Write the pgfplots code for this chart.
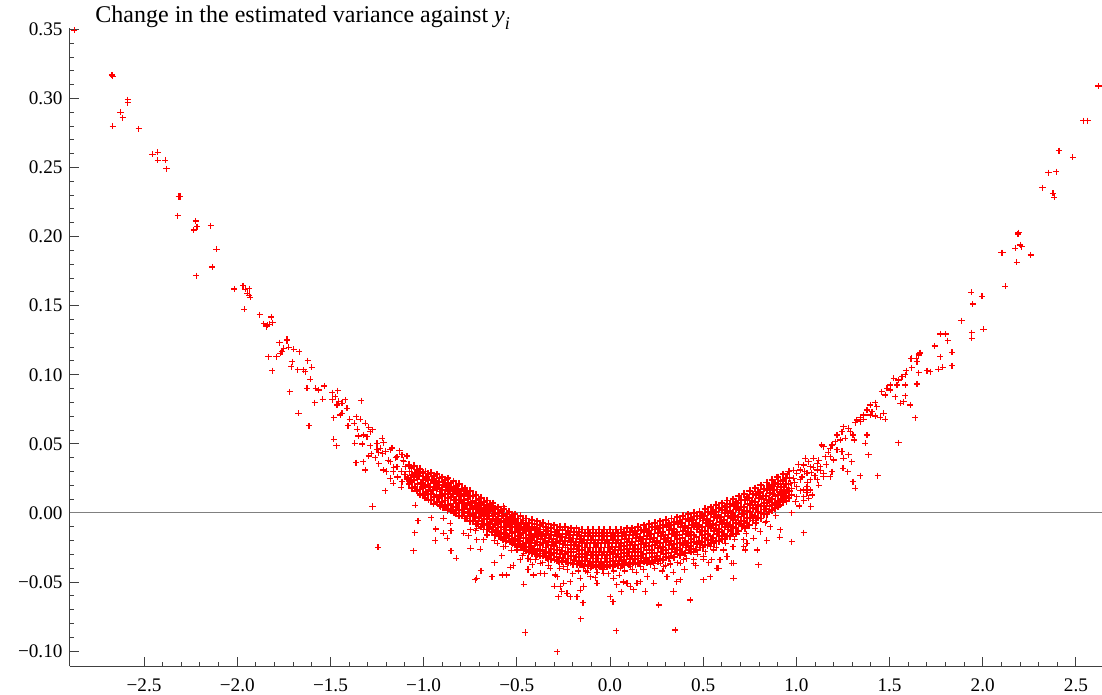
\documentclass[border=0pt]{standalone}
\usepackage{fontspec}
\setmainfont{Liberation Serif}
\usepackage{pgfplots}
\pgfplotsset{compat=1.18}

\begin{document}
\begin{tikzpicture}
\begin{axis}[
  scale only axis,
  width=516pt, height=319pt,
  xmin=-2.9, xmax=2.64,
  ymin=-0.111, ymax=0.351,
  axis lines=left,
  axis line style={-, black!75, line width=0.5pt},
  tick align=inside,
  tick style={black!75, line width=0.5pt},
  major tick length=4.5pt,
  minor tick length=2.2pt,
  minor tick num=4,
  xtick={-2.5,-2,-1.5,-1,-0.5,0,0.5,1,1.5,2,2.5},
  xticklabels={\textrm{−2.5},\textrm{−2.0},\textrm{−1.5},\textrm{−1.0},\textrm{−0.5},\textrm{0.0},\textrm{0.5},\textrm{1.0},\textrm{1.5},\textrm{2.0},\textrm{2.5}},
  ytick={-0.1,-0.05,0,0.05,0.1,0.15,0.2,0.25,0.3,0.35},
  yticklabels={\textrm{−0.10},\textrm{−0.05},\textrm{0.00},\textrm{0.05},\textrm{0.10},\textrm{0.15},\textrm{0.20},\textrm{0.25},\textrm{0.30},\textrm{0.35}},
  tick label style={font=\fontsize{9.6}{11}\selectfont, text=black},
  xticklabel style={yshift=-2.5pt},
  clip=false,
]
\addplot[gray, line width=0.5pt, forget plot] coordinates {(-2.9,0) (2.64,0)};

% outer branches and scattered points
\addplot[only marks, mark=+, mark size=1.55pt, red, mark options={line width=0.55pt}] coordinates {
(-2.874,0.3495)
(-2.672,0.317)(-2.668,0.316)(-2.588,0.299)(-2.588,0.297)
(-2.627,0.290)(-2.615,0.286)(-2.668,0.280)(-2.529,0.278)
(-2.455,0.2596)(-2.427,0.261)(-2.427,0.2554)(-2.386,0.2554)(-2.380,0.249)
(-2.314,0.229)(-2.307,0.229)(-2.320,0.215)
(-2.223,0.2113)(-2.216,0.2072)(-2.234,0.2048)(-2.143,0.2079)
(-2.111,0.191)(-2.135,0.178)(-2.221,0.1717)
(-2.016,0.1621)(-1.969,0.1645)(-1.957,0.1619)(-1.935,0.1623)(-1.947,0.159)(-1.935,0.1577)(-1.930,0.1561)
(-1.962,0.1474)(-1.880,0.1435)(-1.817,0.1418)
(-1.858,0.1368)(-1.840,0.1360)(-1.826,0.1365)(-1.810,0.1377)(-1.844,0.1348)
(-1.733,0.1257)
(-1.773,0.1232)(-1.733,0.1247)
(-1.751,0.1192)(-1.760,0.1167)(-1.724,0.1199)(-1.697,0.1184)(-1.667,0.1167)
(-1.832,0.1131)(-1.790,0.1131)(-1.769,0.1156)(-1.812,0.103)
(-1.706,0.1095)(-1.711,0.1059)
(-1.622,0.1102)(-1.601,0.1054)(-1.644,0.1035)(-1.676,0.1035)(-1.635,0.1022)
(-1.608,0.0967)(-1.719,0.0876)
(-1.626,0.0902)(-1.579,0.0902)(-1.533,0.0919)(-1.563,0.089)
(-1.671,0.0721)(-1.585,0.0798)(-1.542,0.0823)
(-1.491,0.087)(-1.461,0.0885)(-1.474,0.0842)(-1.491,0.0818)(-1.456,0.0806)(-1.420,0.0818)(-1.465,0.0781)(-1.438,0.0794)
(-1.334,0.0813)(-1.615,0.063)
(-1.483,0.069)(-1.447,0.0709)(-1.411,0.0758)(-1.397,0.0678)(-1.406,0.063)(-1.438,0.0721)
(-1.361,0.0697)(-1.340,0.0678)(-1.372,0.0649)(-1.357,0.0606)(-1.313,0.0649)(-1.295,0.062)(-1.274,0.0601)(-1.286,0.0588)(-1.322,0.0564)(-1.349,0.0557)(-1.304,0.0552)
(-1.483,0.0533)(-1.468,0.0485)
(-1.370,0.0504)(-1.330,0.0499)(-1.286,0.0485)(-1.250,0.0504)(-1.223,0.054)(-1.215,0.0509)(-1.232,0.0468)(-1.205,0.0444)(-1.241,0.0436)(-1.179,0.0456)
(-1.363,0.0364)(-1.325,0.0371)(-1.295,0.0412)(-1.282,0.0427)
(-1.313,0.0311)(-1.241,0.0355)(-1.215,0.0311)(-1.179,0.0371)(-1.164,0.0299)(-1.143,0.0335)(-1.143,0.0407)(-1.116,0.042)(-1.107,0.0371)(-1.089,0.0412)(-1.098,0.0335)
(-1.207,0.0161)(-1.164,0.0215)(-1.116,0.0226)(-1.121,0.0186)(-1.089,0.0244)
(-1.12,0.030)(-1.14,0.026)(-1.16,0.033)(-1.19,0.038)(-1.22,0.043)(-1.13,0.045)(-1.17,0.047)(-1.20,0.030)(-1.26,0.040)(-1.10,0.028)(-1.11,0.038)(-1.15,0.040)(-1.25,0.046)(-1.18,0.025)
(-1.054,0.0335)(-1.035,0.0311)(-1.018,0.0299)(-1.000,0.0287)(-0.982,0.0263)(-1.054,0.0263)(-1.071,0.0226)(-1.035,0.0239)(-1.009,0.0215)(-0.991,0.0239)(-0.964,0.0215)(-1.000,0.019)(-1.045,0.0179)(-1.018,0.0143)(-0.982,0.0154)(-0.946,0.019)(-0.920,0.0226)(-0.901,0.0203)(-0.874,0.0239)(-0.884,0.0166)(-0.857,0.019)(-0.839,0.0143)(-0.821,0.0179)(-0.785,0.0154)(-0.767,0.0118)(-0.803,0.0094)(-0.830,0.007)(-0.964,0.0094)(-0.910,0.0046)(-0.866,0.0034)
(-1.274,0.0046)(-1.245,-0.0248)(-1.045,0.0056)(-1.030,-0.0056)(-1.048,-0.0143)(-1.054,-0.0273)(-0.960,-0.0034)(-0.934,-0.0116)(-0.937,-0.02)(-0.893,-0.0038)(-0.857,-0.0075)(-0.893,-0.0147)(-0.874,-0.0183)(-0.853,-0.013)(-0.853,-0.0275)(-0.826,-0.0328)
(-0.785,-0.0147)(-0.759,-0.0166)(-0.749,-0.0123)(-0.714,-0.0111)(-0.678,-0.0123)(-0.642,-0.0099)(-0.714,-0.0195)(-0.678,-0.0195)(-0.749,-0.0255)(-0.696,-0.0263)(-0.606,-0.0147)(-0.571,-0.0123)(-0.535,-0.0099)(-0.606,-0.0219)(-0.571,-0.0244)(-0.517,-0.0195)(-0.499,-0.0268)(-0.463,-0.0292)(-0.428,-0.0195)(-0.392,-0.0147)(-0.356,-0.0099)(-0.410,-0.0268)(-0.374,-0.0292)
(-0.678,0.0058)(-0.642,0.0046)(-0.606,0.0022)(-0.571,0.0046)(-0.749,-0.0002)(-0.785,0.0022)(-0.821,0.0046)(-0.749,0.007)(-0.714,0.0034)
(-0.723,-0.0485)(-0.714,-0.0473)(-0.633,-0.0461)(-0.692,-0.0418)(-0.579,-0.0449)(-0.553,-0.0449)(-0.535,-0.0393)(-0.463,-0.0516)(-0.454,-0.0866)
(-0.410,-0.0449)(-0.374,-0.0436)(-0.418,-0.0376)(-0.374,-0.0364)(-0.320,-0.04)(-0.284,-0.0461)(-0.293,-0.0449)
(-0.267,-0.0533)(-0.249,-0.0509)(-0.276,-0.0606)(-0.231,-0.0581)(-0.213,-0.0606)(-0.258,-0.0569)
(-0.213,-0.0497)(-0.159,-0.0473)(-0.142,-0.0533)(-0.177,-0.0606)(-0.145,-0.0649)(-0.156,-0.0767)
(-0.070,-0.0509)(0.019,-0.0473)(0.037,-0.0521)(0.002,-0.0606)(0.016,-0.0642)(0.091,-0.0509)(0.109,-0.0533)(0.127,-0.0557)(0.145,-0.0509)(0.163,-0.0497)(0.189,-0.0569)(0.234,-0.0509)(0.261,-0.0666)(0.306,-0.0461)(0.341,-0.0569)(0.359,-0.0497)(0.377,-0.0485)(0.431,-0.0630)(0.502,-0.0485)(0.538,-0.0461)(0.574,-0.04)(0.628,-0.0316)(0.663,-0.0473)(0.663,-0.0364)
(0.034,-0.0852)(0.350,-0.0847)(-0.283,-0.1006)(-0.105,-0.0461)(-0.034,-0.0436)
(-0.481,-0.034)(-0.428,-0.034)(-0.392,-0.0316)(-0.320,-0.034)(-0.249,-0.0389)(-0.195,-0.0376)(-0.142,-0.0389)(-0.106,-0.04)(-0.052,-0.0389)(0.002,-0.0376)(0.055,-0.04)(0.109,-0.0389)(0.163,-0.0389)(0.216,-0.0376)(0.270,-0.0364)(0.323,-0.0376)(0.395,-0.034)(0.449,-0.034)(0.502,-0.0316)(0.556,-0.0268)(0.609,-0.0268)(0.717,-0.0244)(0.717,-0.0195)(0.681,-0.0147)
(-0.62,-0.036)(-0.58,-0.031)(-0.52,-0.038)(-0.44,-0.041)(-0.35,-0.044)(-0.30,-0.053)(-0.20,-0.044)(-0.12,-0.043)(-0.08,-0.047)(-0.01,-0.044)(0.05,-0.045)(0.07,-0.05)(0.14,-0.043)(0.20,-0.046)(0.28,-0.042)(0.40,-0.041)(0.46,-0.038)(0.53,-0.036)(0.59,-0.034)(0.34,-0.043)(-0.16,-0.056)(0.06,-0.057)
(-0.72,-0.013)(-0.66,-0.016)(-0.62,-0.020)(-0.56,-0.024)(-0.53,-0.027)(-0.47,-0.031)(-0.44,-0.033)(-0.40,-0.034)(-0.36,-0.036)(-0.33,-0.038)(-0.27,-0.040)(-0.23,-0.041)(-0.17,-0.042)(-0.13,-0.042)(-0.07,-0.043)(-0.04,-0.041)(0.02,-0.042)(0.08,-0.042)(0.12,-0.041)(0.18,-0.041)(0.24,-0.040)(0.30,-0.038)(0.36,-0.036)(0.41,-0.033)(0.47,-0.030)(0.51,-0.028)(0.57,-0.025)(0.62,-0.022)(0.67,-0.019)(0.73,-0.015)(0.78,-0.011)(0.84,-0.006)(0.89,-0.002)
(0.976,0.0002)(0.914,-0.0123)(1.039,-0.0143)(0.976,-0.0208)(0.910,-0.0176)(0.842,-0.02)(0.833,-0.007)(0.860,-0.0099)(0.806,-0.0135)(0.770,-0.0183)(0.789,-0.0268)(0.726,-0.0268)(0.735,-0.0219)(0.797,-0.0376)(0.660,-0.0244)(0.654,-0.0364)(0.628,-0.0316)(0.583,-0.04)(0.547,-0.034)(0.502,-0.0335)(0.538,-0.0244)(0.449,-0.028)(0.449,-0.0364)(0.377,-0.0364)(0.324,-0.0364)(0.288,-0.0389)(0.234,-0.0364)
(0.985,0.031)(0.99,0.022)(1.01,0.035)(1.02,0.016)(1.03,0.026)(1.045,0.030)(1.06,0.022)(1.08,0.029)(1.09,0.033)(1.10,0.027)(1.12,0.038)(1.13,0.031)(0.975,0.018)(0.995,0.008)(1.015,0.005)(1.04,0.009)(1.085,0.013)(1.12,0.020)(1.16,0.035)(1.17,0.044)
(1.048,0.0396)(1.065,0.0371)(1.092,0.0396)(1.111,0.036)(1.075,0.0335)(1.039,0.0347)(1.128,0.0335)(1.021,0.0311)(1.003,0.0287)(1.057,0.0287)(1.111,0.0311)(1.146,0.0287)(1.191,0.0299)(1.146,0.0263)(1.182,0.0263)(1.111,0.0239)(1.075,0.0239)(1.057,0.019)(1.021,0.0239)(0.985,0.0251)(0.967,0.0215)(1.003,0.019)(1.039,0.0166)(1.075,0.0166)(1.066,0.0106)(1.039,0.0118)(1.078,0.0046)(1.003,0.0118)(0.976,0.013)(0.950,0.0166)(0.931,0.0118)(0.914,0.019)(0.896,0.0263)(0.931,0.0239)(0.950,0.0275)(0.923,0.0143)(0.896,0.007)(0.860,0.0094)(0.842,0.0166)(0.860,0.019)(0.878,0.0215)(0.824,0.0118)(0.806,0.0143)(1.057,0.0147)
(1.253,0.0624)(1.280,0.0613)(1.289,0.0588)(1.245,0.0588)(1.218,0.0564)(1.236,0.0528)(1.209,0.0516)(1.262,0.054)(1.191,0.0492)(1.182,0.0468)(1.146,0.048)(1.137,0.0492)(1.218,0.0456)(1.245,0.0444)(1.280,0.042)(1.253,0.0396)(1.298,0.0371)(1.250,0.0323)(1.275,0.0299)(1.304,0.0226)(1.316,0.0179)(1.343,0.027)(1.436,0.027)(1.182,0.0407)(1.200,0.0383)(1.155,0.0407)
(1.379,0.0564)(1.370,0.0504)(1.387,0.042)(1.304,0.0564)(1.311,0.0528)
(1.397,0.0781)(1.423,0.0798)(1.432,0.0769)(1.406,0.0733)(1.379,0.0745)(1.361,0.0709)(1.343,0.0692)(1.325,0.0673)(1.316,0.0653)(1.343,0.0661)(1.361,0.0678)(1.397,0.0709)(1.450,0.0692)(1.477,0.0678)(1.423,0.0702)(1.468,0.0721)
(1.522,0.0975)(1.548,0.0962)(1.567,0.0986)(1.540,0.0926)(1.584,0.0926)(1.504,0.0926)(1.486,0.0902)(1.459,0.0878)(1.477,0.0854)(1.504,0.089)(1.531,0.0842)(1.584,0.0847)(1.557,0.0794)(1.575,0.0805)(1.611,0.0781)
(1.647,0.0933)(1.638,0.069)(1.548,0.0509)
(1.665,0.116)(1.656,0.1143)(1.643,0.1119)(1.620,0.1119)(1.647,0.1095)(1.620,0.1051)(1.590,0.103)(1.584,0.0999)
(1.656,0.1015)(1.701,0.103)(1.718,0.1022)(1.763,0.104)(1.786,0.1054)
(1.773,0.1295)(1.800,0.1295)(1.813,0.1247)(1.742,0.1208)(1.772,0.1131)
(1.835,0.1163)(1.835,0.1066)(1.661,0.1156)(1.615,0.1117)
(2.621,0.309)(2.541,0.2839)(2.562,0.2839)(2.409,0.2622)(2.484,0.2574)(2.353,0.2462)(2.394,0.247)(2.321,0.2354)(2.377,0.2313)(2.384,0.2284)
(2.192,0.2028)(2.189,0.2019)(2.201,0.1939)(2.210,0.1927)(2.174,0.1915)(2.099,0.1884)(2.108,0.1884)(2.257,0.1867)(2.183,0.1814)(2.121,0.164)
(1.938,0.1597)(1.996,0.1568)(1.947,0.1512)(1.886,0.1391)(2.004,0.1329)(1.942,0.1305)(1.942,0.1264)
};

% dense core of the cloud
\addplot[only marks, mark=+, mark size=1.75pt, red, mark options={line width=0.95pt}] coordinates {
(-1.080,0.035)(-1.076,0.030)(-1.084,0.025)(-1.078,0.021)
(-1.050,0.034)(-1.046,0.029)(-1.053,0.024)(-1.049,0.019)
(-1.020,0.032)(-1.024,0.027)(-1.017,0.022)(-1.021,0.017)(-1.019,0.013)
(-0.990,0.030)(-0.986,0.025)(-0.993,0.020)(-0.988,0.015)(-0.991,0.011)
(-0.960,0.029)(-0.957,0.024)(-0.963,0.019)(-0.959,0.014)(-0.962,0.009)
(-0.930,0.028)(-0.934,0.023)(-0.927,0.018)(-0.931,0.013)(-0.929,0.008)
(-0.900,0.026)(-0.897,0.022)(-0.903,0.017)(-0.899,0.012)(-0.902,0.008)(-0.898,0.004)
(-0.870,0.025)(-0.873,0.020)(-0.868,0.016)(-0.871,0.011)(-0.869,0.006)(-0.872,0.002)
(-0.840,0.023)(-0.837,0.018)(-0.843,0.014)(-0.839,0.009)(-0.842,0.004)(-0.838,0.000)
(-0.810,0.021)(-0.813,0.016)(-0.808,0.012)(-0.811,0.007)(-0.809,0.002)(-0.812,-0.002)
(-0.780,0.018)(-0.777,0.014)(-0.783,0.009)(-0.779,0.005)(-0.782,0.000)(-0.778,-0.004)
(-0.750,0.016)(-0.753,0.012)(-0.748,0.007)(-0.751,0.003)(-0.749,-0.002)(-0.752,-0.006)
(-0.720,0.013)(-0.717,0.009)(-0.723,0.005)(-0.719,0.000)(-0.722,-0.004)(-0.718,-0.008)
(-0.690,0.011)(-0.693,0.007)(-0.688,0.002)(-0.691,-0.002)(-0.689,-0.006)(-0.692,-0.010)
(-0.660,0.009)(-0.657,0.005)(-0.663,0.000)(-0.659,-0.004)(-0.662,-0.008)(-0.658,-0.012)
(-0.630,0.007)(-0.633,0.003)(-0.628,-0.002)(-0.631,-0.006)(-0.629,-0.010)(-0.632,-0.014)
(-0.600,0.004)(-0.597,0.000)(-0.603,-0.004)(-0.599,-0.008)(-0.602,-0.013)(-0.598,-0.017)
(-0.570,0.003)(-0.573,-0.002)(-0.568,-0.006)(-0.571,-0.010)(-0.569,-0.015)(-0.572,-0.019)
(-0.540,0.001)(-0.537,-0.003)(-0.543,-0.008)(-0.539,-0.012)(-0.542,-0.017)(-0.538,-0.021)
(-0.510,-0.001)(-0.513,-0.005)(-0.508,-0.010)(-0.511,-0.014)(-0.509,-0.019)(-0.512,-0.023)
(-0.480,-0.002)(-0.477,-0.007)(-0.483,-0.011)(-0.479,-0.016)(-0.482,-0.020)(-0.478,-0.025)
(-0.450,-0.004)(-0.453,-0.008)(-0.448,-0.013)(-0.451,-0.018)(-0.449,-0.022)(-0.452,-0.027)
(-0.420,-0.005)(-0.417,-0.010)(-0.423,-0.015)(-0.419,-0.019)(-0.422,-0.024)(-0.418,-0.029)
(-0.390,-0.006)(-0.393,-0.011)(-0.388,-0.016)(-0.391,-0.021)(-0.389,-0.026)(-0.392,-0.030)
(-0.360,-0.007)(-0.357,-0.012)(-0.363,-0.017)(-0.359,-0.022)(-0.362,-0.027)(-0.358,-0.031)
(-0.330,-0.008)(-0.333,-0.013)(-0.328,-0.018)(-0.331,-0.023)(-0.329,-0.028)(-0.332,-0.033)
(-0.300,-0.009)(-0.297,-0.014)(-0.303,-0.019)(-0.299,-0.024)(-0.302,-0.029)(-0.298,-0.034)
(-0.270,-0.010)(-0.273,-0.015)(-0.268,-0.020)(-0.271,-0.025)(-0.269,-0.030)(-0.272,-0.035)
(-0.240,-0.010)(-0.237,-0.015)(-0.243,-0.020)(-0.239,-0.025)(-0.242,-0.030)(-0.238,-0.035)
(-0.210,-0.011)(-0.213,-0.016)(-0.208,-0.021)(-0.211,-0.026)(-0.209,-0.031)(-0.212,-0.036)
(-0.180,-0.011)(-0.177,-0.016)(-0.183,-0.021)(-0.179,-0.026)(-0.182,-0.032)(-0.178,-0.037)
(-0.150,-0.012)(-0.153,-0.017)(-0.148,-0.022)(-0.151,-0.027)(-0.149,-0.032)(-0.152,-0.037)
(-0.120,-0.012)(-0.117,-0.017)(-0.123,-0.022)(-0.119,-0.028)(-0.122,-0.033)(-0.118,-0.038)
(-0.090,-0.012)(-0.093,-0.017)(-0.088,-0.022)(-0.091,-0.028)(-0.089,-0.033)(-0.092,-0.038)
(-0.060,-0.012)(-0.057,-0.017)(-0.063,-0.022)(-0.059,-0.028)(-0.062,-0.033)(-0.058,-0.038)
(-0.030,-0.012)(-0.033,-0.017)(-0.028,-0.022)(-0.031,-0.028)(-0.029,-0.033)(-0.032,-0.038)
(0.000,-0.012)(0.003,-0.017)(-0.003,-0.022)(0.001,-0.028)(-0.002,-0.033)(0.002,-0.038)
(0.030,-0.012)(0.027,-0.017)(0.032,-0.022)(0.029,-0.027)(0.031,-0.032)(0.028,-0.037)
(0.060,-0.012)(0.063,-0.017)(0.058,-0.022)(0.061,-0.027)(0.059,-0.032)(0.062,-0.037)
(0.090,-0.011)(0.087,-0.016)(0.093,-0.021)(0.089,-0.026)(0.092,-0.031)(0.088,-0.036)
(0.120,-0.011)(0.123,-0.016)(0.118,-0.021)(0.121,-0.026)(0.119,-0.031)(0.122,-0.036)
(0.150,-0.010)(0.147,-0.015)(0.153,-0.020)(0.149,-0.026)(0.152,-0.031)(0.148,-0.036)
(0.180,-0.009)(0.183,-0.014)(0.178,-0.019)(0.181,-0.025)(0.179,-0.030)(0.182,-0.035)
(0.210,-0.008)(0.207,-0.013)(0.213,-0.019)(0.209,-0.024)(0.212,-0.029)(0.208,-0.035)
(0.240,-0.007)(0.243,-0.012)(0.238,-0.018)(0.241,-0.023)(0.239,-0.029)(0.242,-0.034)
(0.270,-0.006)(0.267,-0.011)(0.273,-0.017)(0.269,-0.022)(0.272,-0.028)(0.268,-0.033)
(0.300,-0.005)(0.303,-0.010)(0.298,-0.016)(0.301,-0.021)(0.299,-0.027)(0.302,-0.032)
(0.330,-0.004)(0.327,-0.009)(0.333,-0.015)(0.329,-0.020)(0.332,-0.026)(0.328,-0.031)
(0.360,-0.003)(0.363,-0.008)(0.358,-0.014)(0.361,-0.019)(0.359,-0.025)(0.362,-0.030)
(0.390,-0.002)(0.387,-0.007)(0.393,-0.013)(0.389,-0.018)(0.392,-0.023)(0.388,-0.028)
(0.420,-0.001)(0.423,-0.006)(0.418,-0.011)(0.421,-0.017)(0.419,-0.022)(0.422,-0.027)
(0.450,0.000)(0.447,-0.005)(0.453,-0.010)(0.449,-0.016)(0.452,-0.021)(0.448,-0.026)
(0.480,0.001)(0.483,-0.004)(0.478,-0.009)(0.481,-0.014)(0.479,-0.020)(0.482,-0.025)
(0.510,0.003)(0.507,-0.002)(0.513,-0.007)(0.509,-0.013)(0.512,-0.018)(0.508,-0.023)
(0.540,0.004)(0.543,-0.001)(0.538,-0.006)(0.541,-0.011)(0.539,-0.017)(0.542,-0.022)
(0.570,0.006)(0.567,0.001)(0.573,-0.004)(0.569,-0.009)(0.572,-0.015)(0.568,-0.020)
(0.600,0.007)(0.603,0.002)(0.598,-0.003)(0.601,-0.008)(0.599,-0.014)(0.602,-0.019)
(0.630,0.009)(0.627,0.004)(0.633,-0.002)(0.629,-0.007)(0.632,-0.012)(0.628,-0.017)
(0.660,0.010)(0.663,0.005)(0.658,0.000)(0.661,-0.005)(0.659,-0.010)(0.662,-0.015)
(0.690,0.012)(0.687,0.007)(0.693,0.002)(0.689,-0.003)(0.692,-0.008)(0.688,-0.013)
(0.720,0.014)(0.723,0.009)(0.718,0.004)(0.721,-0.001)(0.719,-0.006)(0.722,-0.011)
(0.750,0.016)(0.747,0.011)(0.753,0.006)(0.749,0.001)(0.752,-0.004)(0.748,-0.009)
(0.780,0.018)(0.783,0.013)(0.778,0.008)(0.781,0.003)(0.779,-0.002)(0.782,-0.007)
(0.810,0.020)(0.807,0.015)(0.813,0.010)(0.809,0.005)(0.812,0.000)(0.808,-0.004)
(0.840,0.022)(0.843,0.017)(0.838,0.012)(0.841,0.007)(0.839,0.003)(0.842,-0.001)
(0.870,0.024)(0.867,0.019)(0.873,0.014)(0.869,0.010)(0.872,0.006)(0.868,0.002)
(0.900,0.026)(0.903,0.021)(0.898,0.017)(0.901,0.013)(0.899,0.009)(0.902,0.005)
(0.930,0.028)(0.927,0.023)(0.933,0.019)(0.929,0.015)(0.932,0.011)(0.928,0.008)
(0.960,0.030)(0.963,0.025)(0.958,0.021)(0.961,0.016)(0.959,0.011)
};

% dense core, in between the points above
\addplot[only marks, mark=+, mark size=1.75pt, red, mark options={line width=0.95pt}] coordinates {
(-1.065,0.0325)(-1.062,0.0275)(-1.068,0.0225)(-1.064,0.018)
(-1.035,0.031)(-1.038,0.026)(-1.033,0.021)(-1.036,0.016)
(-1.005,0.029)(-1.002,0.024)(-1.008,0.019)(-1.004,0.014)
(-0.975,0.0285)(-0.978,0.0235)(-0.973,0.0185)(-0.976,0.0135)(-0.974,0.0095)
(-0.945,0.0265)(-0.942,0.0215)(-0.948,0.0165)(-0.944,0.0115)(-0.947,0.0065)
(-0.915,0.0255)(-0.918,0.0205)(-0.913,0.0155)(-0.916,0.0105)(-0.914,0.0055)
(-0.885,0.0235)(-0.882,0.0185)(-0.888,0.0135)(-0.884,0.009)(-0.887,0.0045)
(-0.855,0.0215)(-0.858,0.0165)(-0.853,0.0115)(-0.856,0.0065)(-0.854,0.0015)
(-0.825,0.0195)(-0.822,0.0145)(-0.828,0.0095)(-0.824,0.0045)(-0.827,0.000)
(-0.795,0.0175)(-0.798,0.0125)(-0.793,0.0075)(-0.796,0.0025)(-0.794,-0.002)
(-0.765,0.015)(-0.762,0.010)(-0.768,0.0055)(-0.764,0.001)(-0.767,-0.004)
(-0.735,0.0125)(-0.738,0.008)(-0.733,0.0035)(-0.736,-0.0015)(-0.734,-0.006)
(-0.705,0.010)(-0.702,0.006)(-0.708,0.0015)(-0.704,-0.003)(-0.707,-0.008)
(-0.675,0.008)(-0.678,0.0035)(-0.673,-0.0005)(-0.676,-0.0045)(-0.674,-0.009)
(-0.645,0.006)(-0.642,0.0015)(-0.648,-0.0025)(-0.644,-0.0065)(-0.647,-0.011)
(-0.615,0.0035)(-0.618,-0.0005)(-0.613,-0.0045)(-0.616,-0.0085)(-0.614,-0.0125)(-0.617,-0.016)
(-0.585,0.0015)(-0.582,-0.0025)(-0.588,-0.0065)(-0.584,-0.0105)(-0.587,-0.0145)(-0.583,-0.018)
(-0.555,-0.0005)(-0.558,-0.0045)(-0.553,-0.0085)(-0.556,-0.0125)(-0.554,-0.0165)(-0.557,-0.020)
(-0.525,-0.0025)(-0.522,-0.0065)(-0.528,-0.0105)(-0.524,-0.0145)(-0.527,-0.0185)(-0.523,-0.022)
(-0.495,-0.004)(-0.498,-0.0085)(-0.493,-0.0125)(-0.496,-0.0165)(-0.494,-0.0205)(-0.497,-0.024)
(-0.465,-0.0055)(-0.462,-0.010)(-0.468,-0.0145)(-0.464,-0.0185)(-0.467,-0.0225)(-0.463,-0.026)
(-0.435,-0.007)(-0.438,-0.0115)(-0.433,-0.016)(-0.436,-0.0205)(-0.434,-0.0245)(-0.437,-0.028)
(-0.405,-0.008)(-0.402,-0.0125)(-0.408,-0.0175)(-0.404,-0.022)(-0.407,-0.026)(-0.403,-0.0295)
(-0.375,-0.009)(-0.378,-0.014)(-0.373,-0.019)(-0.376,-0.0235)(-0.374,-0.0275)(-0.377,-0.031)
(-0.345,-0.010)(-0.342,-0.015)(-0.348,-0.020)(-0.344,-0.025)(-0.347,-0.029)(-0.343,-0.032)
(-0.315,-0.011)(-0.318,-0.016)(-0.313,-0.021)(-0.316,-0.026)(-0.314,-0.0305)(-0.317,-0.0335)
(-0.285,-0.012)(-0.282,-0.017)(-0.288,-0.022)(-0.284,-0.027)(-0.287,-0.032)(-0.283,-0.0345)
(-0.255,-0.0125)(-0.258,-0.0175)(-0.253,-0.0225)(-0.256,-0.0275)(-0.254,-0.0325)(-0.257,-0.0355)
(-0.225,-0.013)(-0.222,-0.018)(-0.228,-0.023)(-0.224,-0.028)(-0.227,-0.033)(-0.223,-0.036)
(-0.195,-0.0135)(-0.198,-0.0185)(-0.193,-0.0235)(-0.196,-0.0285)(-0.194,-0.034)(-0.197,-0.037)
(-0.165,-0.014)(-0.162,-0.019)(-0.168,-0.024)(-0.164,-0.0295)(-0.167,-0.0345)(-0.163,-0.0375)
(-0.135,-0.0145)(-0.138,-0.0195)(-0.133,-0.025)(-0.136,-0.030)(-0.134,-0.035)(-0.137,-0.038)
(-0.105,-0.0145)(-0.102,-0.0195)(-0.108,-0.025)(-0.104,-0.0305)(-0.107,-0.0355)(-0.103,-0.0385)
(-0.075,-0.0145)(-0.078,-0.0195)(-0.073,-0.025)(-0.076,-0.0305)(-0.074,-0.0355)(-0.077,-0.039)
(-0.045,-0.0145)(-0.042,-0.0195)(-0.048,-0.025)(-0.044,-0.0305)(-0.047,-0.0355)(-0.043,-0.039)
(-0.015,-0.0145)(-0.018,-0.0195)(-0.013,-0.025)(-0.016,-0.0305)(-0.014,-0.0355)(-0.017,-0.039)
(0.015,-0.0145)(0.018,-0.0195)(0.013,-0.0245)(0.016,-0.030)(0.014,-0.035)(0.017,-0.0385)
(0.045,-0.0145)(0.042,-0.0195)(0.048,-0.0245)(0.044,-0.0295)(0.047,-0.0345)(0.043,-0.038)
(0.075,-0.014)(0.078,-0.019)(0.073,-0.024)(0.076,-0.029)(0.074,-0.034)(0.077,-0.0375)
(0.105,-0.0135)(0.102,-0.0185)(0.108,-0.0235)(0.104,-0.0285)(0.107,-0.0335)(0.103,-0.037)
(0.135,-0.013)(0.138,-0.018)(0.133,-0.023)(0.136,-0.0285)(0.134,-0.0335)(0.137,-0.037)
(0.165,-0.0125)(0.162,-0.0175)(0.168,-0.0225)(0.164,-0.028)(0.167,-0.033)(0.163,-0.0365)
(0.195,-0.0115)(0.198,-0.0165)(0.193,-0.022)(0.196,-0.027)(0.194,-0.0325)(0.197,-0.036)
(0.225,-0.0105)(0.222,-0.0155)(0.228,-0.021)(0.224,-0.0265)(0.227,-0.032)(0.223,-0.0355)
(0.255,-0.0095)(0.258,-0.0145)(0.253,-0.020)(0.256,-0.0255)(0.254,-0.031)(0.257,-0.035)
(0.285,-0.0085)(0.282,-0.0135)(0.288,-0.019)(0.284,-0.0245)(0.287,-0.030)(0.283,-0.034)
(0.315,-0.0075)(0.318,-0.0125)(0.313,-0.018)(0.316,-0.0235)(0.314,-0.029)(0.317,-0.033)
(0.345,-0.0065)(0.342,-0.0115)(0.348,-0.017)(0.344,-0.0225)(0.347,-0.028)(0.343,-0.032)
(0.375,-0.0055)(0.378,-0.0105)(0.373,-0.016)(0.376,-0.0215)(0.374,-0.0265)(0.377,-0.0305)
(0.405,-0.0045)(0.402,-0.0095)(0.408,-0.015)(0.404,-0.020)(0.407,-0.025)(0.403,-0.029)
(0.435,-0.0035)(0.438,-0.0085)(0.433,-0.0135)(0.436,-0.019)(0.434,-0.024)(0.437,-0.028)
(0.465,-0.0025)(0.462,-0.007)(0.468,-0.012)(0.464,-0.0175)(0.467,-0.0225)(0.463,-0.0265)
(0.495,-0.001)(0.498,-0.0055)(0.493,-0.0105)(0.496,-0.016)(0.494,-0.021)(0.497,-0.025)
(0.525,0.0005)(0.522,-0.0045)(0.528,-0.0095)(0.524,-0.015)(0.527,-0.0195)(0.523,-0.0235)
(0.555,0.002)(0.558,-0.003)(0.553,-0.008)(0.556,-0.013)(0.554,-0.018)(0.557,-0.022)
(0.585,0.0035)(0.582,-0.0015)(0.588,-0.0065)(0.584,-0.0115)(0.587,-0.0165)(0.583,-0.0205)
(0.615,0.005)(0.618,0.000)(0.613,-0.005)(0.616,-0.010)(0.614,-0.015)(0.617,-0.019)
(0.645,0.0065)(0.642,0.0015)(0.648,-0.0035)(0.644,-0.0085)(0.647,-0.013)(0.643,-0.017)
(0.675,0.008)(0.678,0.003)(0.673,-0.002)(0.676,-0.007)(0.674,-0.011)(0.677,-0.015)
(0.705,0.0095)(0.702,0.0045)(0.708,-0.0005)(0.704,-0.0055)(0.707,-0.0095)
(0.735,0.0115)(0.738,0.0065)(0.733,0.0015)(0.736,-0.0035)(0.734,-0.0075)
(0.765,0.0135)(0.762,0.0085)(0.768,0.0035)(0.764,-0.0015)(0.767,-0.0055)
(0.795,0.0155)(0.798,0.0105)(0.793,0.0055)(0.796,0.0005)(0.794,-0.0035)
(0.825,0.0175)(0.822,0.0125)(0.828,0.0075)(0.824,0.0025)(0.827,-0.001)
(0.855,0.0195)(0.858,0.0145)(0.853,0.0095)(0.856,0.005)(0.854,0.001)
(0.885,0.0215)(0.882,0.0165)(0.888,0.012)(0.884,0.0075)(0.887,0.0035)
(0.915,0.0235)(0.918,0.019)(0.913,0.0145)(0.916,0.010)(0.914,0.006)
(0.945,0.0255)(0.942,0.021)(0.948,0.0165)(0.944,0.012)(0.947,0.0085)
};

\coordinate (SW) at (rel axis cs:0,0);
\coordinate (NE) at (rel axis cs:1,1);
\node[anchor=base west, xshift=12.75pt, yshift=2.5pt, inner sep=0pt,
  font=\fontsize{12}{14}\selectfont] at (rel axis cs:0,1)
  {Change in the estimated variance against \textit{y}\raisebox{-0.55ex}{\fontsize{9}{10}\selectfont\textit{i}}};
\end{axis}
\pgfresetboundingbox
\path[use as bounding box] ([xshift=-34.75pt,yshift=-14pt]SW) rectangle ([yshift=14pt]NE);
\end{tikzpicture}
\end{document}
